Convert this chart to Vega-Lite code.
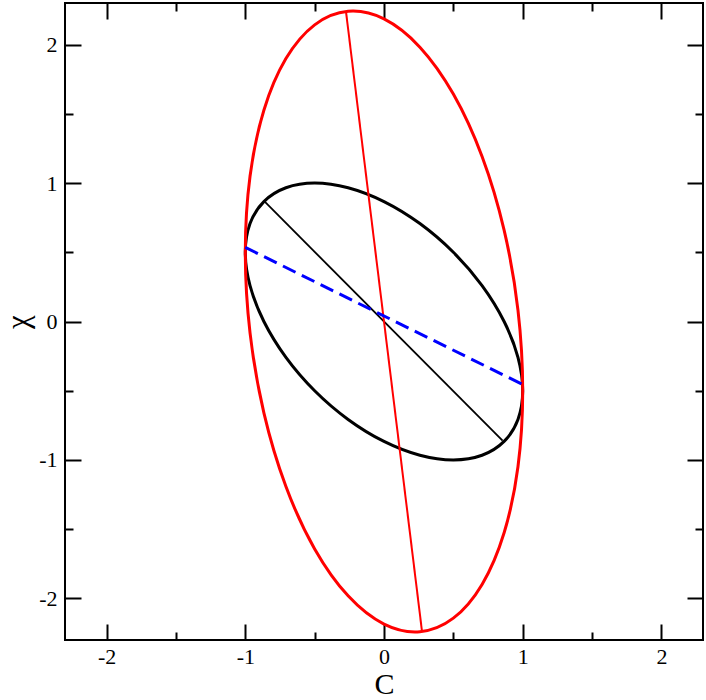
{
  "$schema": "https://vega.github.io/schema/vega-lite/v6.json",
  "width": 638,
  "height": 637,
  "autosize": {"type": "none"},
  "padding": {"left": 65, "top": 3, "right": 3, "bottom": 60},
  "background": "white",
  "config": {"view": {"stroke": "black", "strokeWidth": 2}},
  "datasets": {
    "black": [
      {"i": 0, "x": 1, "y": -0.5}, {"i": 1, "x": 0.96593, "y": -0.25882}, {"i": 2, "x": 0.86603, "y": 0},
      {"i": 3, "x": 0.70711, "y": 0.25882}, {"i": 4, "x": 0.5, "y": 0.5}, {"i": 5, "x": 0.25882, "y": 0.70711},
      {"i": 6, "x": 0, "y": 0.86603}, {"i": 7, "x": -0.25882, "y": 0.96593}, {"i": 8, "x": -0.5, "y": 1},
      {"i": 9, "x": -0.70711, "y": 0.96593}, {"i": 10, "x": -0.86603, "y": 0.86603}, {"i": 11, "x": -0.96593, "y": 0.70711},
      {"i": 12, "x": -1, "y": 0.5}, {"i": 13, "x": -0.96593, "y": 0.25882}, {"i": 14, "x": -0.86603, "y": 0},
      {"i": 15, "x": -0.70711, "y": -0.25882}, {"i": 16, "x": -0.5, "y": -0.5}, {"i": 17, "x": -0.25882, "y": -0.70711},
      {"i": 18, "x": 0, "y": -0.86603}, {"i": 19, "x": 0.25882, "y": -0.96593}, {"i": 20, "x": 0.5, "y": -1},
      {"i": 21, "x": 0.70711, "y": -0.96593}, {"i": 22, "x": 0.86603, "y": -0.86603}, {"i": 23, "x": 0.96593, "y": -0.70711}
    ],
    "red": [
      {"i": 0, "x": 1, "y": -0.5}, {"i": 1, "x": 0.96593, "y": 0.08256}, {"i": 2, "x": 0.86603, "y": 0.65949},
      {"i": 3, "x": 0.70711, "y": 1.19148}, {"i": 4, "x": 0.5, "y": 1.64228}, {"i": 5, "x": 0.25882, "y": 1.98115},
      {"i": 6, "x": 0, "y": 2.185}, {"i": 7, "x": -0.25882, "y": 2.23997}, {"i": 8, "x": -0.5, "y": 2.14228},
      {"i": 9, "x": -0.70711, "y": 1.89858}, {"i": 10, "x": -0.86603, "y": 1.52551}, {"i": 11, "x": -0.96593, "y": 1.04848},
      {"i": 12, "x": -1, "y": 0.5}, {"i": 13, "x": -0.96593, "y": -0.08256}, {"i": 14, "x": -0.86603, "y": -0.65949},
      {"i": 15, "x": -0.70711, "y": -1.19148}, {"i": 16, "x": -0.5, "y": -1.64228}, {"i": 17, "x": -0.25882, "y": -1.98115},
      {"i": 18, "x": 0, "y": -2.185}, {"i": 19, "x": 0.25882, "y": -2.23997}, {"i": 20, "x": 0.5, "y": -2.14228},
      {"i": 21, "x": 0.70711, "y": -1.89858}, {"i": 22, "x": 0.86603, "y": -1.52551}, {"i": 23, "x": 0.96593, "y": -1.04848}
    ],
    "blackAxis": [{"i": 0, "x": -0.86, "y": 0.865}, {"i": 1, "x": 0.855, "y": -0.86}],
    "redAxis": [{"i": 0, "x": -0.274, "y": 2.238}, {"i": 1, "x": 0.274, "y": -2.238}],
    "blue": [{"i": 0, "x": -1, "y": 0.535}, {"i": 1, "x": 1, "y": -0.455}]
  },
  "resolve": {"axis": {"x": "independent", "y": "independent"}},
  "layer": [
    {
      "data": {"name": "black"},
      "mark": {"type": "line", "interpolate": "cardinal-closed", "color": "black", "strokeWidth": 3},
      "encoding": {
        "order": {"field": "i", "type": "quantitative"},
        "x": {"field": "x", "type": "quantitative", "scale": {"domain": [-2.3, 2.3], "nice": false, "zero": false},
          "axis": {"orient": "bottom", "values": [-2, -1, 0, 1, 2], "ticks": false, "domain": false, "grid": false,
            "labelExpr": "'' + datum.value", "labelFlush": false, "labelFont": "Liberation Serif", "labelFontSize": 22, "labelColor": "black", "labelPadding": 6,
            "title": "C", "titleFont": "Liberation Serif", "titleFontSize": 30, "titleFontWeight": "normal", "titleColor": "black", "titlePadding": 2}},
        "y": {"field": "y", "type": "quantitative", "scale": {"domain": [-2.3, 2.3], "nice": false, "zero": false},
          "axis": {"orient": "left", "values": [-2, -1, 0, 1, 2], "ticks": false, "domain": false, "grid": false,
            "labelExpr": "'' + datum.value", "labelFlush": false, "labelFont": "Liberation Serif", "labelFontSize": 22, "labelColor": "black", "labelPadding": 8,
            "title": "χ", "titleFont": "Liberation Serif", "titleFontSize": 31, "titleFontWeight": "normal", "titleColor": "black", "titlePadding": 4}}
      }
    },
    {
      "data": {"name": "blackAxis"},
      "mark": {"type": "line", "color": "black", "strokeWidth": 1.8},
      "encoding": {
        "order": {"field": "i", "type": "quantitative"},
        "x": {"field": "x", "type": "quantitative", "scale": {"domain": [-2.3, 2.3], "nice": false, "zero": false},
          "axis": {"orient": "bottom", "values": [-2, -1, 0, 1, 2], "ticks": true, "tickSize": -16, "tickWidth": 2, "tickColor": "black", "labels": false, "domain": false, "grid": false, "title": null}},
        "y": {"field": "y", "type": "quantitative", "scale": {"domain": [-2.3, 2.3], "nice": false, "zero": false},
          "axis": {"orient": "left", "values": [-2, -1, 0, 1, 2], "ticks": true, "tickSize": -16, "tickWidth": 2, "tickColor": "black", "labels": false, "domain": false, "grid": false, "title": null}}
      }
    },
    {
      "data": {"name": "red"},
      "mark": {"type": "line", "interpolate": "cardinal-closed", "color": "#ff0000", "strokeWidth": 3},
      "encoding": {
        "order": {"field": "i", "type": "quantitative"},
        "x": {"field": "x", "type": "quantitative", "scale": {"domain": [-2.3, 2.3], "nice": false, "zero": false},
          "axis": {"orient": "top", "values": [-2, -1, 0, 1, 2], "ticks": true, "tickSize": -16, "tickWidth": 2, "tickColor": "black", "labels": false, "domain": false, "grid": false, "title": null}},
        "y": {"field": "y", "type": "quantitative", "scale": {"domain": [-2.3, 2.3], "nice": false, "zero": false},
          "axis": {"orient": "right", "values": [-2, -1, 0, 1, 2], "ticks": true, "tickSize": -16, "tickWidth": 2, "tickColor": "black", "labels": false, "domain": false, "grid": false, "title": null}}
      }
    },
    {
      "data": {"name": "redAxis"},
      "mark": {"type": "line", "color": "#ff0000", "strokeWidth": 2},
      "encoding": {
        "order": {"field": "i", "type": "quantitative"},
        "x": {"field": "x", "type": "quantitative", "scale": {"domain": [-2.3, 2.3], "nice": false, "zero": false},
          "axis": {"orient": "bottom", "values": [-1.5, -0.5, 0.5, 1.5], "ticks": true, "tickSize": -8, "tickWidth": 2, "tickColor": "black", "labels": false, "domain": false, "grid": false, "title": null}},
        "y": {"field": "y", "type": "quantitative", "scale": {"domain": [-2.3, 2.3], "nice": false, "zero": false},
          "axis": {"orient": "left", "values": [-1.5, -0.5, 0.5, 1.5], "ticks": true, "tickSize": -8, "tickWidth": 2, "tickColor": "black", "labels": false, "domain": false, "grid": false, "title": null}}
      }
    },
    {
      "data": {"name": "blue"},
      "mark": {"type": "line", "color": "#0000ff", "strokeWidth": 3, "strokeDash": [14, 7]},
      "encoding": {
        "order": {"field": "i", "type": "quantitative"},
        "x": {"field": "x", "type": "quantitative", "scale": {"domain": [-2.3, 2.3], "nice": false, "zero": false},
          "axis": {"orient": "top", "values": [-1.5, -0.5, 0.5, 1.5], "ticks": true, "tickSize": -8, "tickWidth": 2, "tickColor": "black", "labels": false, "domain": false, "grid": false, "title": null}},
        "y": {"field": "y", "type": "quantitative", "scale": {"domain": [-2.3, 2.3], "nice": false, "zero": false},
          "axis": {"orient": "right", "values": [-1.5, -0.5, 0.5, 1.5], "ticks": true, "tickSize": -8, "tickWidth": 2, "tickColor": "black", "labels": false, "domain": false, "grid": false, "title": null}}
      }
    }
  ]
}
